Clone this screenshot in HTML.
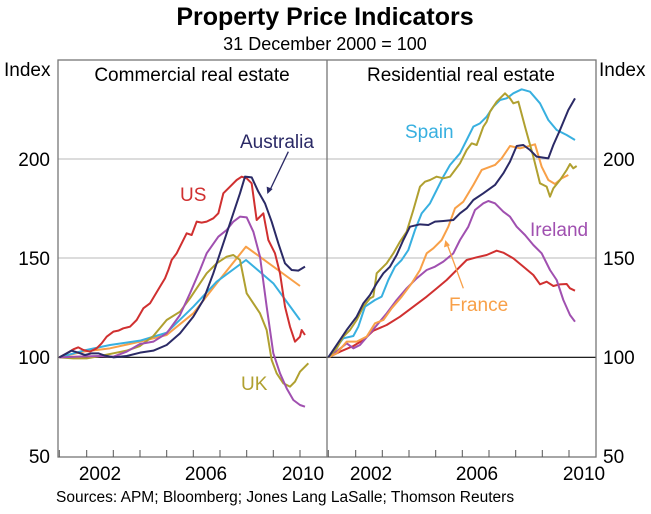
<!DOCTYPE html>
<html><head><meta charset="utf-8"><style>
body{margin:0;background:#fff}
svg text{font-family:"Liberation Sans",Arial,sans-serif}
</style></head><body>
<svg width="651" height="509" viewBox="0 0 651 509" xmlns="http://www.w3.org/2000/svg">
<rect width="651" height="509" fill="#fff"/>
<text x="325" y="25" font-size="25" font-weight="bold" text-anchor="middle">Property Price Indicators</text>
<text x="325" y="50" font-size="18" text-anchor="middle">31 December 2000 = 100</text>
<line x1="58" y1="159" x2="596" y2="159" stroke="#c8c8c8" stroke-width="1.2"/>
<line x1="58" y1="258" x2="596" y2="258" stroke="#c8c8c8" stroke-width="1.2"/>
<line x1="58" y1="357.3" x2="596" y2="357.3" stroke="#000" stroke-width="1.2"/>
<rect x="58" y="60" width="538" height="397" fill="none" stroke="#777" stroke-width="1.3"/>
<line x1="327" y1="60" x2="327" y2="457" stroke="#777" stroke-width="1.3"/>
<g stroke="#555" stroke-width="1">
<path d="M59.3 457v-7M86.7 457v-7M113.3 457v-7M140 457v-7M166.7 457v-7M193.3 457v-7M220 457v-7M246.7 457v-7M273.3 457v-7M300 457v-7M328.3 457v-7M355.7 457v-7M382.3 457v-7M409 457v-7M435.7 457v-7M462.3 457v-7M489 457v-7M515.7 457v-7M542.3 457v-7M569 457v-7"/>
</g>
<g font-size="19">
<text x="4" y="76">Index</text>
<text x="599" y="76">Index</text>
<text x="50" y="166" text-anchor="end">200</text>
<text x="50" y="265" text-anchor="end">150</text>
<text x="50" y="364" text-anchor="end">100</text>
<text x="50" y="463" text-anchor="end">50</text>
<text x="603" y="166">200</text>
<text x="603" y="265">150</text>
<text x="603" y="364">100</text>
<text x="603" y="463">50</text>
<text x="100" y="480" text-anchor="middle">2002</text>
<text x="206" y="480" text-anchor="middle">2006</text>
<text x="303" y="480" text-anchor="middle">2010</text>
<text x="371" y="480" text-anchor="middle">2002</text>
<text x="477" y="480" text-anchor="middle">2006</text>
<text x="584" y="480" text-anchor="middle">2010</text>
<text x="192" y="81" text-anchor="middle">Commercial real estate</text>
<text x="461" y="81" text-anchor="middle">Residential real estate</text>
</g>
<text x="56" y="502" font-size="15.5">Sources: APM; Bloomberg; Jones Lang LaSalle; Thomson Reuters</text>
<g font-size="19">
<text x="240" y="148" fill="#2b2a66">Australia</text>
<text x="180" y="201" fill="#d03030">US</text>
<text x="241" y="390" fill="#b0a030">UK</text>
<text x="405" y="138" fill="#38b0e0">Spain</text>
<text x="530" y="236" fill="#a050b0">Ireland</text>
<text x="449" y="311" fill="#f8a048">France</text>
</g>
<g transform="translate(0,40) scale(0.33333)" fill="none" stroke-width="6" stroke-linejoin="round">
<polyline stroke="#f8a048" points="178,952 250,935 330,925 420,905 500,885 580,820 650,730 738,620 900,738"/>
<polyline stroke="#38b0e0" points="178,952 250,932 330,915 420,902 500,878 580,800 650,725 738,660 820,730 900,840"/>
<polyline stroke="#b0a030" points="178,952 220,955 260,955 300,948 340,940 380,932 420,918 460,888 500,840 540,815 570,775 600,730 620,700 650,670 680,650 700,645 720,660 740,760 760,790 780,820 800,870 815,960 830,1000 850,1030 870,1040 885,1025 900,995 925,970"/>
<polyline stroke="#a050b0" points="178,952 230,950 300,948 340,950 380,935 420,912 460,905 500,880 540,825 570,760 600,690 620,640 655,590 680,570 700,545 720,530 740,532 760,575 780,650 800,800 820,940 840,1000 860,1045 880,1080 900,1095 915,1100"/>
<polyline stroke="#d03030" points="178,952 200,940 220,928 235,922 250,930 270,935 290,925 305,910 320,890 340,875 355,872 370,865 390,860 410,840 430,805 450,790 465,765 480,740 495,715 505,690 515,660 530,640 545,610 560,580 575,585 590,545 605,548 620,545 640,535 655,520 670,460 690,440 710,420 725,410 740,415 755,430 770,540 790,520 805,600 825,640 840,700 855,800 870,860 885,905 900,890 905,870 915,885"/>
<polyline stroke="#2b2a66" points="178,952 200,940 215,932 235,938 255,945 275,940 295,940 315,947 340,952 380,948 420,938 460,932 500,915 540,880 580,830 610,780 640,700 660,640 680,580 700,520 720,460 735,410 755,412 775,455 795,490 815,545 835,610 855,670 875,690 895,692 915,680"/>
<line x1="865" y1="335" x2="810" y2="450" stroke="#2b2a66" stroke-width="4"/>
<polygon points="802,462 800,440 818,447" fill="#2b2a66" stroke="none"/>
</g>
<g transform="translate(320,40) scale(0.33333)" fill="none" stroke-width="6" stroke-linejoin="round">
<polyline stroke="#d03030" points="25,952 60,935 100,918 130,900 160,872 200,855 240,830 280,800 320,770 350,745 380,720 410,690 440,660 470,652 500,645 530,632 550,638 580,655 610,680 640,705 660,733 680,725 700,738 720,733 740,732 750,745 765,752"/>
<polyline stroke="#a050b0" points="25,952 55,930 80,910 100,925 120,915 150,880 175,850 200,820 230,780 260,745 290,715 320,690 345,680 370,665 400,640 420,600 445,560 465,510 490,490 505,483 525,490 550,515 570,530 590,560 615,585 640,615 665,640 690,690 710,720 730,780 750,825 765,845"/>
<polyline stroke="#f8a048" points="25,952 50,940 80,905 110,905 140,890 165,850 190,840 215,805 245,770 275,730 300,690 320,640 340,625 365,600 385,560 405,505 430,485 460,435 485,390 525,375 545,355 570,318 600,325 620,320 645,313 665,380 685,420 705,432 725,415 745,405"/>
<polyline stroke="#38b0e0" points="25,952 50,920 70,895 100,888 115,860 135,800 165,780 185,770 205,720 225,680 245,660 265,630 285,570 305,520 330,490 350,450 370,410 390,375 420,340 440,300 460,260 480,250 500,230 520,200 540,180 560,175 580,160 605,148 630,155 660,190 685,240 710,270 740,285 765,300"/>
<polyline stroke="#b0a030" points="25,952 50,925 70,890 90,870 110,840 130,800 150,775 160,770 170,700 180,690 200,670 220,640 240,605 260,575 280,510 300,440 315,425 330,420 350,410 370,415 390,410 405,390 420,370 440,330 455,310 470,315 490,260 500,245 510,215 530,185 555,160 570,175 580,190 595,185 615,260 640,350 660,430 680,440 690,470 700,445 720,420 740,390 750,372 760,385 770,378"/>
<polyline stroke="#2b2a66" points="25,952 50,915 80,870 110,830 130,790 150,765 170,730 190,700 210,680 230,645 250,600 270,560 300,553 325,555 345,545 370,543 400,540 420,520 440,505 460,480 490,460 525,435 550,400 570,365 590,318 610,315 630,330 650,350 685,355 700,315 720,270 745,210 765,175"/>
<line x1="430" y1="745" x2="382" y2="614" stroke="#f8a048" stroke-width="4"/>
<polygon points="376,600 372,622 390,616" fill="#f8a048" stroke="none"/>
</g>
</svg>
</body></html>
